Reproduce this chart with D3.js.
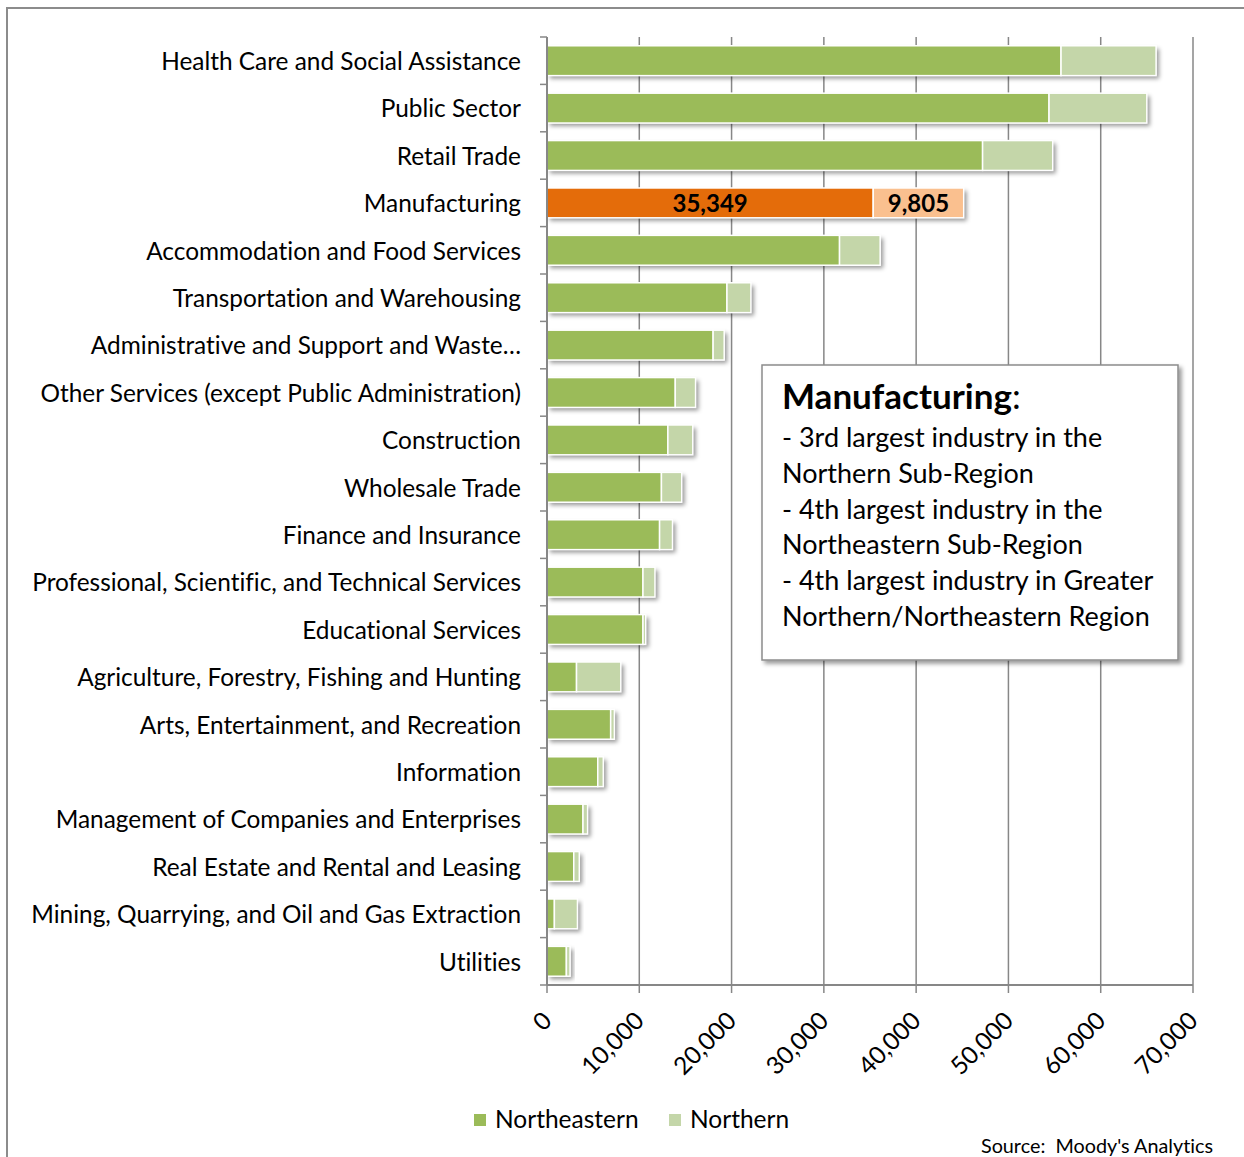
<!DOCTYPE html>
<html>
<head>
<meta charset="utf-8">
<script src="https://cdn.jsdelivr.net/npm/d3@7"></script>
<style>
  html, body { margin: 0; padding: 0; background: #fff; }
  svg { display: block; }
  text { font-family: Lato, "Open Sans", sans-serif; fill: #000; font-variant-ligatures: none; }
</style>
</head>
<body>
<svg id="chart" width="1244" height="1157"></svg>
<script>
// Employment by industry, Greater Northern/Northeastern Region
const categories = [
  "Health Care and Social Assistance",
  "Public Sector",
  "Retail Trade",
  "Manufacturing",
  "Accommodation and Food Services",
  "Transportation and Warehousing",
  "Administrative and Support and Waste…",
  "Other Services (except Public Administration)",
  "Construction",
  "Wholesale Trade",
  "Finance and Insurance",
  "Professional, Scientific, and Technical Services",
  "Educational Services",
  "Agriculture, Forestry, Fishing and Hunting",
  "Arts, Entertainment, and Recreation",
  "Information",
  "Management of Companies and Enterprises",
  "Real Estate and Rental and Leasing",
  "Mining, Quarrying, and Oil and Gas Extraction",
  "Utilities"
];
const northeastern = [55700, 54400, 47200, 35349, 31700, 19500, 18000, 13900, 13100, 12400,
                      12200, 10400, 10400, 3200, 6900, 5500, 3900, 2900, 800, 2100];
const northern = [10300, 10600, 7600, 9805, 4400, 2600, 1200, 2200, 2700, 2200,
                  1400, 1300, 300, 4800, 400, 600, 500, 600, 2500, 400];
const seriesNames = ["Northeastern", "Northern"];
const xTicks = [0, 10000, 20000, 30000, 40000, 50000, 60000, 70000];
const highlight = "Manufacturing";
const noteTitle = "Manufacturing";
const noteLines = [
  "- 3rd largest industry in the",
  "Northern Sub-Region",
  "- 4th largest industry in the",
  "Northeastern Sub-Region",
  "- 4th largest industry in Greater",
  "Northern/Northeastern Region"
];
const sourceText = "Source:  Moody's Analytics";

const colors = {
  ne: "#9BBB59", n: "#C4D6A9",
  neHi: "#E46C0A", nHi: "#FAC08F",
  grid: "#878787"
};

const svg = d3.select("#chart");
const defs = svg.append("defs");
const shadow = defs.append("filter").attr("id", "shadow")
  .attr("x", "-10%").attr("y", "-30%").attr("width", "130%").attr("height", "180%");
shadow.append("feDropShadow").attr("dx", 3).attr("dy", 3).attr("stdDeviation", 2)
  .attr("flood-color", "#000").attr("flood-opacity", 0.4);

// outer frame (top and left edges visible)
svg.append("path").attr("d", "M7,1157V8H1244")
  .attr("fill", "none").attr("stroke", "#8c8c8c").attr("stroke-width", 2);

const plot = { left: 547, right: 1193, top: 37, bottom: 985 };

const x = d3.scaleLinear().domain([0, 70000]).range([plot.left, plot.right]);
const y = d3.scaleBand().domain(categories).range([plot.top, plot.bottom])
  .paddingInner(0.37).paddingOuter(0.185);

// vertical gridlines
svg.append("g").selectAll("line").data(xTicks.slice(1)).join("line")
  .attr("x1", d => x(d)).attr("x2", d => x(d))
  .attr("y1", plot.top).attr("y2", plot.bottom)
  .attr("stroke", colors.grid).attr("stroke-width", 1.5);

// stacked bars
const rows = categories.map((c, i) => ({ c, ne: northeastern[i], n: northern[i] }));
const barG = svg.append("g");
const rowG = barG.selectAll("g").data(rows).join("g");
rowG.append("rect")
  .attr("x", x(0)).attr("y", d => y(d.c))
  .attr("width", d => x(d.ne + d.n) - x(0)).attr("height", y.bandwidth())
  .attr("fill", "#fff").attr("filter", "url(#shadow)");
rowG.append("rect")
  .attr("x", x(0)).attr("y", d => y(d.c))
  .attr("width", d => x(d.ne) - x(0)).attr("height", y.bandwidth())
  .attr("fill", d => d.c === highlight ? colors.neHi : colors.ne)
  .attr("stroke", "#fff").attr("stroke-width", 1.5);
rowG.append("rect")
  .attr("x", d => x(d.ne)).attr("y", d => y(d.c))
  .attr("width", d => x(d.ne + d.n) - x(d.ne)).attr("height", y.bandwidth())
  .attr("fill", d => d.c === highlight ? colors.nHi : colors.n)
  .attr("stroke", "#fff").attr("stroke-width", 1.5);

// value labels on the highlighted industry
const fmt = d3.format(",");
rows.filter(d => d.c === highlight).forEach(d => {
  [[0, d.ne], [d.ne, d.ne + d.n]].forEach(([a, b]) => {
    svg.append("text")
      .attr("x", (x(a) + x(b)) / 2).attr("y", y(d.c) + y.bandwidth() / 2)
      .attr("dy", "0.38em").attr("text-anchor", "middle")
      .attr("font-size", 24).attr("font-weight", "bold")
      .text(fmt(b - a));
  });
});

// category axis
const yAxis = svg.append("g");
yAxis.append("line").attr("x1", plot.left).attr("x2", plot.left)
  .attr("y1", plot.top).attr("y2", plot.bottom)
  .attr("stroke", colors.grid).attr("stroke-width", 2);
const bounds = categories.map(c => y(c) - y.step() * y.paddingInner() / 2);
bounds.push(plot.bottom);
yAxis.selectAll("line.tk").data(bounds).join("line").attr("class", "tk")
  .attr("x1", plot.left - 7).attr("x2", plot.left)
  .attr("y1", d => d).attr("y2", d => d)
  .attr("stroke", colors.grid).attr("stroke-width", 1.5);
yAxis.selectAll("text").data(categories).join("text")
  .attr("x", plot.left - 26).attr("y", d => y(d) + y.bandwidth() / 2)
  .attr("dy", "0.38em").attr("text-anchor", "end")
  .attr("font-size", 24.4)
  .text(d => d);

// value axis
const xAxis = svg.append("g");
xAxis.append("line").attr("x1", plot.left).attr("x2", plot.right)
  .attr("y1", plot.bottom).attr("y2", plot.bottom)
  .attr("stroke", colors.grid).attr("stroke-width", 2);
xAxis.selectAll("line.tk").data(xTicks).join("line").attr("class", "tk")
  .attr("x1", d => x(d)).attr("x2", d => x(d))
  .attr("y1", plot.bottom).attr("y2", plot.bottom + 8)
  .attr("stroke", colors.grid).attr("stroke-width", 1.5);
xAxis.selectAll("text").data(xTicks).join("text")
  .attr("transform", d => `translate(${x(d)},${plot.bottom + 31}) rotate(-45)`)
  .attr("dy", "0.36em").attr("text-anchor", "end")
  .attr("font-size", 24.4)
  .text(d => fmt(d));

// annotation box
const note = svg.append("g");
note.append("rect").attr("x", 762).attr("y", 365).attr("width", 416).attr("height", 295)
  .attr("fill", "#fff").attr("stroke", "#8c8c8c").attr("stroke-width", 1.5)
  .attr("filter", "url(#shadow)");
const title = note.append("text").attr("x", 782).attr("y", 409).attr("font-size", 35);
title.append("tspan").attr("font-weight", "bold").text(noteTitle);
title.append("tspan").text(":");
note.selectAll("text.ln").data(noteLines).join("text").attr("class", "ln")
  .attr("x", 782).attr("y", (d, i) => 447 + i * 35.8)
  .attr("font-size", 27)
  .text(d => d);

// legend
const legend = svg.append("g");
const legendX = [474, 669];
seriesNames.forEach((s, i) => {
  legend.append("rect").attr("x", legendX[i]).attr("y", 1114).attr("width", 12).attr("height", 12)
    .attr("fill", i === 0 ? colors.ne : colors.n);
  legend.append("text").attr("x", legendX[i] + 21).attr("y", 1128)
    .attr("font-size", 24.5).text(s);
});

// source
svg.append("text").attr("x", 1213).attr("y", 1153).attr("text-anchor", "end")
  .attr("font-size", 19.8).style("white-space", "pre").text(sourceText);
</script>
</body>
</html>
